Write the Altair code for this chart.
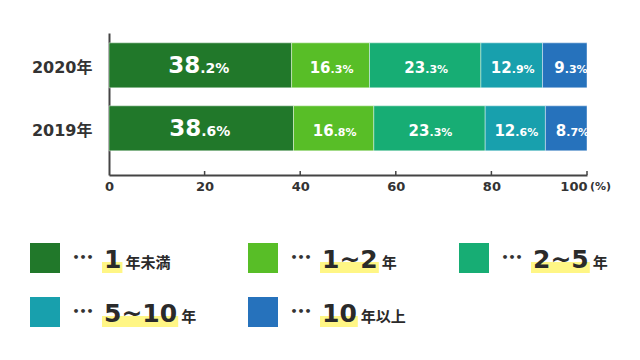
import altair as alt
import pandas as pd

# ---- data ----
years = ["2020年", "2019年"]
categories = ["1年未満", "1~2年", "2~5年", "5~10年", "10年以上"]
values_2020 = [38.2, 16.3, 23.3, 12.9, 9.3]
values_2019 = [38.6, 16.8, 23.3, 12.6, 8.7]
colors = ["#21782a", "#58be27", "#17ad74", "#18a0ad", "#2672bc"]
legend_numbers = ["1", "1~2", "2~5", "5~10", "10"]
legend_suffixes = ["年未満", "年", "年", "年", "年以上"]
x_ticks = [0, 20, 40, 60, 80, 100]

FONT = "DejaVu Sans, Noto Sans CJK JP"
DARK = "#333333"
AXIS = "#444444"
W, H = 478, 142

# ---- tables ----
rows = []
for yr, vals in zip(years, [values_2020, values_2019]):
    for i, (c, v) in enumerate(zip(categories, vals)):
        s = f"{v:.1f}"
        ip, dp = s.split(".")
        rows.append(dict(year=yr, cat=c, value=v, order=i, ip=ip, dp="." + dp + "%"))
df = pd.DataFrame(rows)

# legend layout (pixels relative to plot origin)
LEG_COL_X = [-79, 139, 350]
LEG_ROW_Y = [225, 279]
leg = []
for i, (c, n, s) in enumerate(zip(categories, legend_numbers, legend_suffixes)):
    x0 = LEG_COL_X[i % 3]
    yc = LEG_ROW_Y[i // 3]
    w = sum(21.0 if ch == "~" else 17.4 for ch in n)
    leg.append(dict(cat=c, num=n, suf=s, sqx=x0 + 15, dotx=x0 + 53, numx=x0 + 74,
                    hx1=x0 + 72, hx2=x0 + 74 + w + 1, sufx=x0 + 74 + w + 4,
                    yc=yc, yb=yc + 10, hy1=yc + 4, hy2=yc + 15))
ldf = pd.DataFrame(leg)

color_scale = alt.Scale(domain=categories, range=colors)
y_scale = alt.Scale(domain=years, paddingInner=0.2857, paddingOuter=0.27, align=0.29)
x_scale = alt.Scale(domain=[0, 100], nice=False)

x_axis = alt.Axis(
    values=x_ticks, ticks=False, grid=False, title=None, labelFlush=False,
    labelFont=FONT, labelFontSize=13, labelFontWeight="bold", labelColor=DARK,
    labelPadding=5, domainColor=AXIS, domainWidth=2,
    labelAlign={"condition": {"test": "datum.value === 100", "value": "right"}, "value": "center"},
)
y_axis = alt.Axis(
    title=None, ticks=False, grid=False, labelFont=FONT, labelFontSize=16,
    labelFontWeight="bold", labelColor=DARK, labelPadding=17,
    domainColor=AXIS, domainWidth=2, labelOffset=3,
)

base = alt.Chart(df).transform_stack(
    stack="value", groupby=["year"], as_=["x0", "x1"],
    sort=[alt.SortField("order", order="ascending")]
).transform_calculate(
    mid="(datum.x0 + datum.x1) / 2",
    bs="datum.value > 30 ? 23 : 15",
    ss="datum.value > 30 ? 14 : 11",
)

bars = base.mark_bar(stroke="white", strokeWidth=0.6, strokeOpacity=0.7).encode(
    x=alt.X("x0:Q", scale=x_scale, axis=x_axis),
    x2="x1:Q",
    y=alt.Y("year:N", scale=y_scale, sort=years, axis=y_axis),
    color=alt.Color("cat:N", scale=color_scale, legend=None),
)

int_text = base.mark_text(align="right", baseline="alphabetic", dy=8, color="white",
                          font=FONT, fontWeight="bold").encode(
    x=alt.X("mid:Q", scale=x_scale, axis=x_axis),
    y=alt.Y("year:N", scale=y_scale, sort=years, axis=y_axis),
    text="ip:N", size=alt.Size("bs:Q", scale=None),
)
dec_text = base.mark_text(align="left", baseline="alphabetic", dy=8, color="white",
                          font=FONT, fontWeight="bold").encode(
    x=alt.X("mid:Q", scale=x_scale, axis=x_axis),
    y=alt.Y("year:N", scale=y_scale, sort=years, axis=y_axis),
    text="dp:N", size=alt.Size("ss:Q", scale=None),
)

ticks = alt.Chart(pd.DataFrame({"t": x_ticks[1:]})).mark_rule(color=AXIS, strokeWidth=1.5).encode(
    x=alt.X("t:Q", scale=x_scale, axis=x_axis), y=alt.value(H - 4), y2=alt.value(H)
)

pct = alt.Chart(pd.DataFrame({"t": [100], "lab": ["(%)"]})).mark_text(
    align="left", baseline="middle", dx=3, font=FONT, fontWeight="bold",
    fontSize=11, color=DARK
).encode(x=alt.X("t:Q", scale=x_scale, axis=x_axis), y=alt.value(H + 12), text="lab:N")

lbase = alt.Chart(ldf)
squares = lbase.mark_square(size=900, opacity=1).encode(
    x=alt.X("sqx:Q", scale=None), y=alt.Y("yc:Q", scale=None),
    color=alt.Color("cat:N", scale=color_scale, legend=None),
)
dots = lbase.mark_text(text="•••", align="center", baseline="middle", font=FONT,
                       fontSize=11, fontWeight="bold", color=DARK).encode(
    x=alt.X("dotx:Q", scale=None), y=alt.Y("yc:Q", scale=None),
)
hl = lbase.mark_rect(color="#fff685").encode(
    x=alt.X("hx1:Q", scale=None), x2="hx2:Q",
    y=alt.Y("hy1:Q", scale=None), y2="hy2:Q",
)
nums = lbase.mark_text(align="left", baseline="alphabetic", font=FONT, fontSize=25,
                       fontWeight="bold", color="#2a2a2a").encode(
    x=alt.X("numx:Q", scale=None), y=alt.Y("yb:Q", scale=None), text="num:N",
)
sufs = lbase.mark_text(align="left", baseline="alphabetic", font=FONT, fontSize=15,
                       fontWeight="bold", color="#2a2a2a").encode(
    x=alt.X("sufx:Q", scale=None), y=alt.Y("yb:Q", scale=None), text="suf:N",
)

chart = alt.layer(bars, int_text, dec_text, ticks, pct, squares, dots, hl, nums, sufs).properties(
    width=W, height=H,
    autosize=alt.AutoSizeParams(type="none"),
    padding={"left": 101, "top": 25, "right": 30, "bottom": 180},
).configure_view(stroke=None)

chart.save("out.html", embed_options={"renderer": "svg", "actions": False})
